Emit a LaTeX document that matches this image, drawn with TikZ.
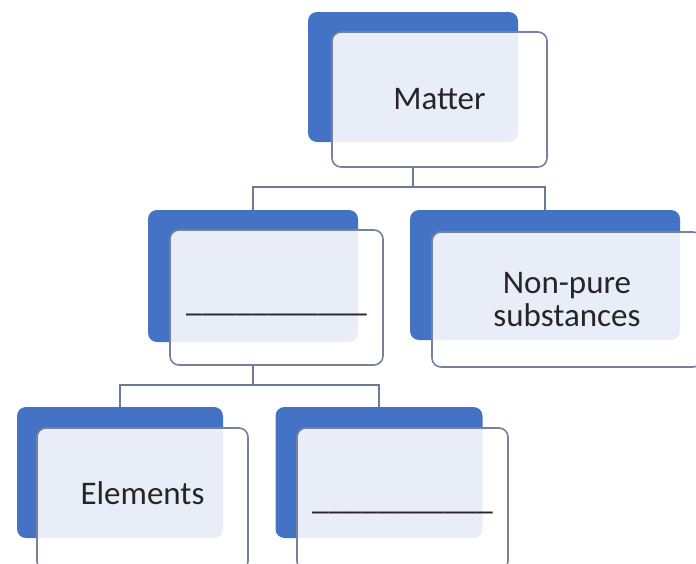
\documentclass[tikz,border=0pt]{standalone}
\usepackage{fontspec}
\setmainfont{Carlito}
\definecolor{sablue}{HTML}{4472C4}
\definecolor{saborder}{HTML}{75829A}
\definecolor{saline}{HTML}{6B7A96}
\begin{document}
\begin{tikzpicture}[x=1pt,y=-1pt,
  back/.style={rectangle, fill=sablue, draw=none, rounded corners=9pt, inner sep=0pt},
  front/.style={rectangle, fill=white, fill opacity=0.88, text opacity=1, draw=saborder, draw opacity=1, line width=1.6pt, rounded corners=9pt, inner sep=0pt, align=center, font=\fontsize{33}{33}\selectfont, text=black!85},
  conn/.style={draw=saline, line width=2pt}]
\clip (0,0) rectangle (696,563);
\fill[white] (0,0) rectangle (696,563);
% Matter
\node[back, minimum width=210pt, minimum height=130pt] (mb) at (413,77) {};
\node[front, minimum width=215pt, minimum height=135pt] (mf) at (439.5,99.5) {Matter};
% Pure substances (blank)
\node[back, minimum width=210pt, minimum height=132pt] (pb) at (253,276) {};
\node[front, minimum width=213pt, minimum height=135pt] (pf) at (276.5,297.5) {\rule[-6pt]{0pt}{39pt}\_\_\_\_\_\_\_\_\_\_\_};
% Non-pure substances
\node[back, minimum width=270pt, minimum height=130pt] (nb) at (545,275) {};
\node[front, minimum width=270pt, minimum height=135pt] (nf) at (567,299.5) {Non-pure\\substances};
% Elements
\node[back, minimum width=206pt, minimum height=131pt] (eb) at (120,472.5) {};
\node[front, minimum width=211pt, minimum height=142pt] (ef) at (142.5,499) {\rule[-12pt]{0pt}{35pt}Elements};
% Blank
\node[back, minimum width=207pt, minimum height=131pt] (bb) at (379,472.5) {};
\node[front, minimum width=211pt, minimum height=142pt] (bf) at (402.5,499) {\rule[-6pt]{0pt}{33pt}\_\_\_\_\_\_\_\_\_\_\_};
% connectors
\coordinate (j1) at (413,187);
\coordinate (j2) at (253,385);
\draw[conn] (mb |- mf.south) -- (j1);
\draw[conn] (j1) -| (pb.north);
\draw[conn] (j1) -| (nb.north);
\draw[conn] (pb |- pf.south) -- (j2);
\draw[conn] (j2) -| (eb.north);
\draw[conn] (j2) -| (bb.north);
\end{tikzpicture}
\end{document}
